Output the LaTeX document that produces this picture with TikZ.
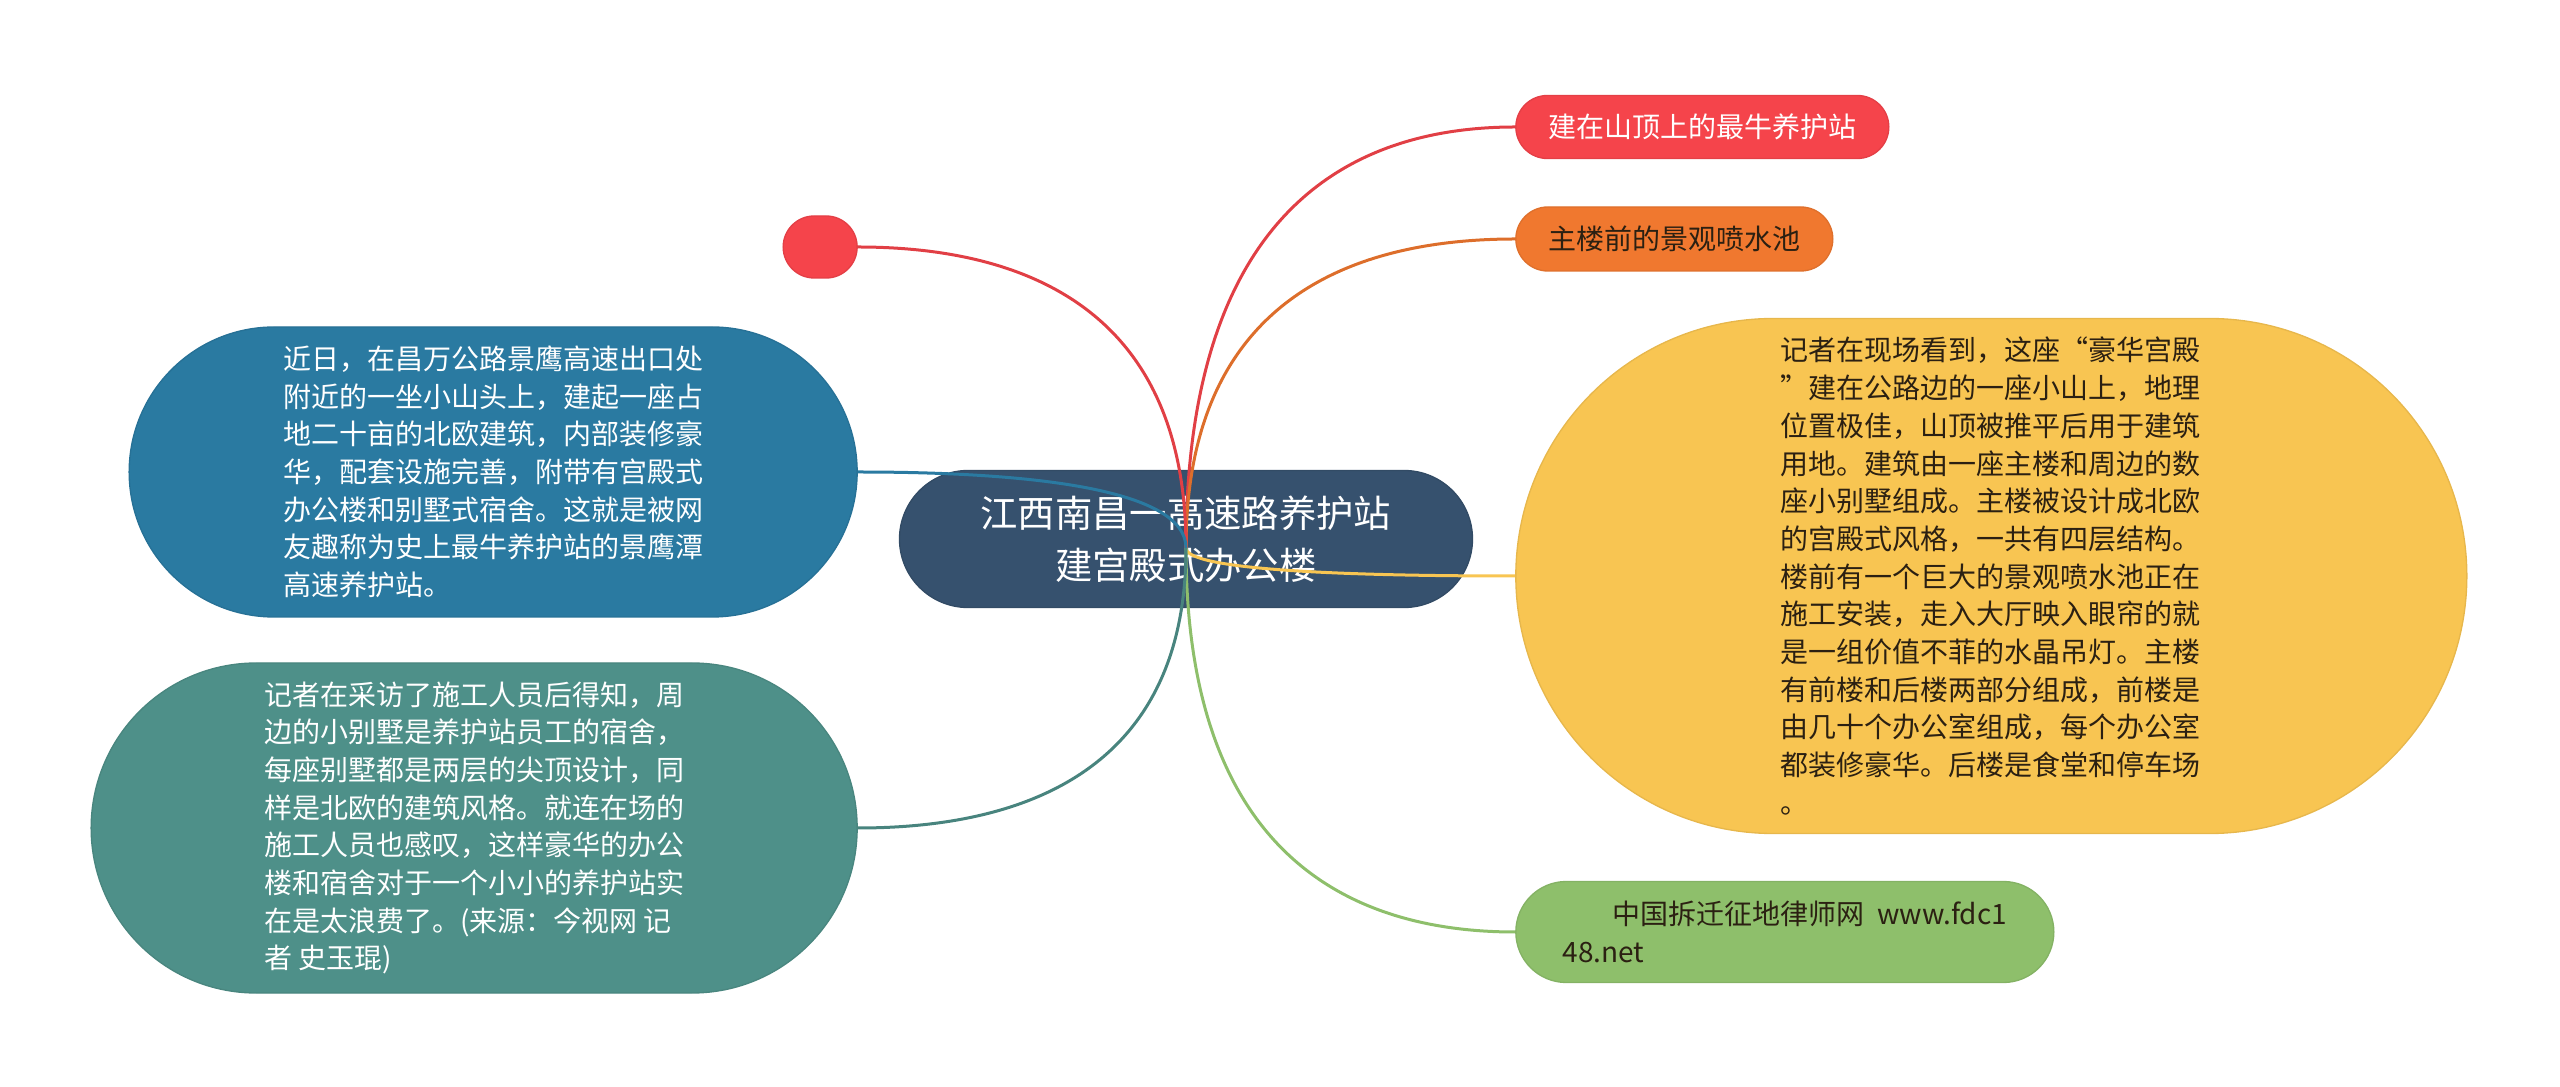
\documentclass[tikz,border=0pt]{standalone}
\usepackage{fontspec}
\newfontfamily\cjk{Noto Sans CJK SC}
\usetikzlibrary{positioning,shapes.misc,calc}
\definecolor{rootfill}{HTML}{36516E}
\definecolor{redleaf}{HTML}{F5444B}
\definecolor{orangeleaf}{HTML}{F0782F}
\definecolor{yellowleaf}{HTML}{F8C552}
\definecolor{greenleaf}{HTML}{8EBF6B}
\definecolor{blueleaf}{HTML}{2A7AA1}
\definecolor{tealleaf}{HTML}{4E9089}
\definecolor{darktext}{HTML}{2B2012}
\tikzset{
  topic/.style={rectangle, rounded corners=20.55pt, fill=rootfill, draw=rootfill!92!black,
    text=white, align=center, minimum width=171.9pt, minimum height=41.1pt,
    font=\cjk\fontsize{11.2pt}{15.6pt}\selectfont},
  leaf/.style={rounded rectangle, fill=#1, draw=#1!93!black, line width=0.4pt,
    align=left, inner sep=0pt, font=\cjk\fontsize{8.4pt}{11.3pt}\selectfont},
  branch/.style={draw=#1, line width=0.9pt,
    to path={.. controls ($(\tikztostart)!0.8!(\tikztostart |- \tikztotarget)$)
      and ($(\tikztotarget)!0.5!(\tikztostart |- \tikztotarget)$) .. (\tikztotarget)}},
}

\begin{document}
\begin{tikzpicture}
    \useasboundingbox (-355.8pt,-164.4pt) rectangle (412.2pt,161.7pt);
    \node[topic] (T0) at (0,0) {江西南昌一高速路养护站\\建宫殿式办公楼};
    \coordinate (hub) at ([yshift=-2.7pt]T0.center);
    % right side
    \node[leaf=redleaf, text=white, minimum width=111.9pt, minimum height=18.9pt,
      right=12.6pt of T0, yshift=123.6pt] (R1) {建在山顶上的最牛养护站};
    \node[leaf=orangeleaf, text=darktext, minimum width=95.1pt, minimum height=19.2pt,
      right=12.6pt of T0, yshift=90pt] (R2) {主楼前的景观喷水池};
    \node[leaf=yellowleaf, text=darktext, minimum width=285.3pt, minimum height=154.5pt,
      right=12.6pt of T0, yshift=-11.1pt] (R3) {记者在现场看到，这座“豪华宫殿\\
”建在公路边的一座小山上，地理\\
位置极佳，山顶被推平后用于建筑\\
用地。建筑由一座主楼和周边的数\\
座小别墅组成。主楼被设计成北欧\\
的宫殿式风格，一共有四层结构。\\
楼前有一个巨大的景观喷水池正在\\
施工安装，走入大厅映入眼帘的就\\
是一组价值不菲的水晶吊灯。主楼\\
有前楼和后楼两部分组成，前楼是\\
由几十个办公室组成，每个办公室\\
都装修豪华。后楼是食堂和停车场\\
。\hspace*{118pt}};
    \node[leaf=greenleaf, text=darktext, minimum width=161.4pt, minimum height=30.3pt,
      right=12.6pt of T0, yshift=-117.9pt] (R4) {\hspace*{15pt}中国拆迁征地律师网\ \ www.fdc1\\48.net};
    % left side
    \node[leaf=redleaf, minimum width=22.2pt, minimum height=18.6pt,
      left=12.3pt of T0, yshift=87.6pt] (L1) {};
    \node[leaf=blueleaf, text=white, minimum width=218.4pt, minimum height=87pt,
      left=12.3pt of T0, yshift=20.1pt] (L2) {近日，在昌万公路景鹰高速出口处\\
附近的一坐小山头上，建起一座占\\
地二十亩的北欧建筑，内部装修豪\\
华，配套设施完善，附带有宫殿式\\
办公楼和别墅式宿舍。这就是被网\\
友趣称为史上最牛养护站的景鹰潭\\
高速养护站。};
    \node[leaf=tealleaf, text=white, minimum width=229.8pt, minimum height=99pt,
      left=12.3pt of T0, yshift=-86.7pt] (L3) {记者在采访了施工人员后得知，周\\
边的小别墅是养护站员工的宿舍，\\
每座别墅都是两层的尖顶设计，同\\
样是北欧的建筑风格。就连在场的\\
施工人员也感叹，这样豪华的办公\\
楼和宿舍对于一个小小的养护站实\\
在是太浪费了。(来源：今视网 记\\
者 史玉琨)};
    \path (hub)
      edge [branch=redleaf!92!black]    (R1.west)
      edge [branch=orangeleaf!92!black] (R2.west)
      edge [branch=yellowleaf]          (R3.west)
      edge [branch=greenleaf]           (R4.west)
      edge [branch=redleaf!92!black]    (L1.east)
      edge [branch=blueleaf]            (L2.east)
      edge [branch=tealleaf!92!black]   (L3.east);
\end{tikzpicture}
\end{document}
